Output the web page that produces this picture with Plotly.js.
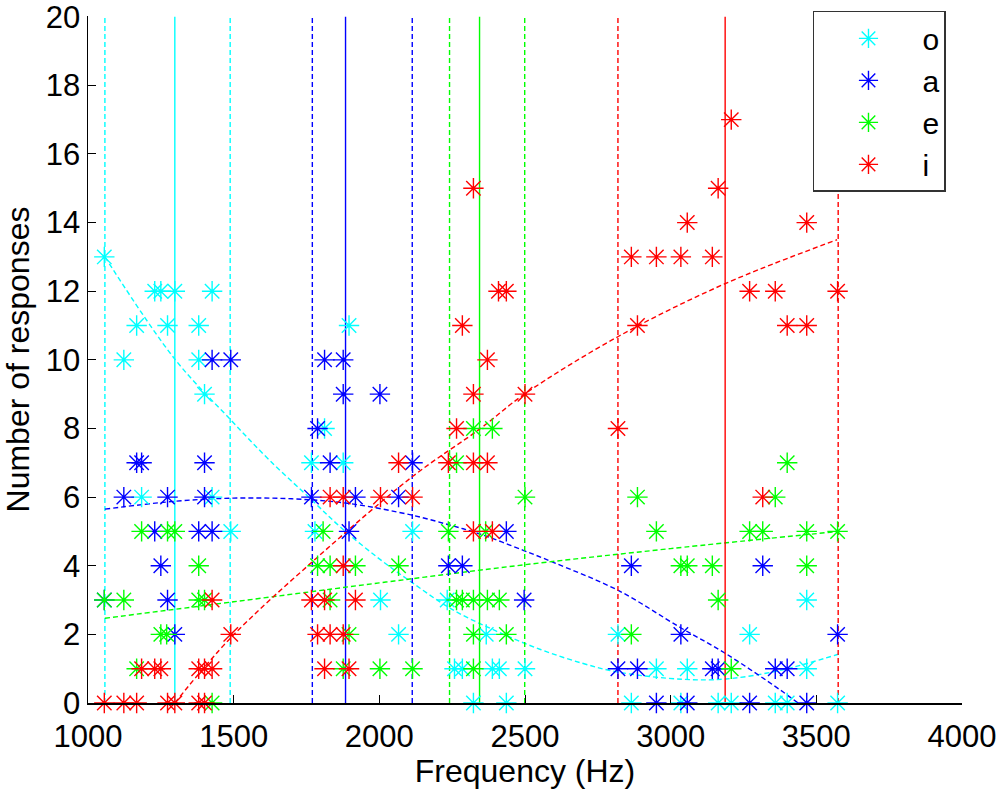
<!DOCTYPE html>
<html>
<head>
<meta charset="utf-8">
<script src="https://cdn.plot.ly/plotly-3.0.1.min.js"></script>
<style>
  body { margin: 0; background: white; }
  #plot { width: 1000px; height: 789px; }
</style>
</head>
<body>
<div id="plot"></div>
<script>
// responses per stimulus frequency (Hz) for each vowel
var oFreq  = [1056,1123,1167,1184,1229,1250,1273,1298,1380,1380,1400,1426,1426,1490,
              1767,1779,1812,1876,1896,2004,2066,2114,
              2233,2258,2285,2323,2367,2388,2412,2436,2500,
              2819,2865,2951,3035,3057,3163,3208,3271,3359,3400,3467,3467,3573];
var oCount = [13,10,11,6,12,12,11,12,11,10,9,12,6,5,
              7,5,8,7,11,3,2,5,
              3,1,1,0,2,1,1,0,1,
              2,0,1,0,1,0,0,2,0,0,3,1,0];

var aFreq  = [1056,1123,1167,1184,1229,1250,1273,1273,1298,1380,1400,1400,1426,1426,1490,
              1767,1788,1812,1831,1876,1876,1896,1918,2002,2066,2114,
              2237,2285,2436,2497,
              2819,2865,2886,3035,3057,2951,3143,3163,3271,3316,3359,3400,3467,3573];
var aCount = [3,6,7,7,5,4,6,3,2,5,7,6,10,5,10,
              6,8,10,7,10,9,5,6,9,6,7,
              4,4,5,3,
              1,4,1,2,0,0,1,1,0,4,1,1,0,2];

var eFreq  = [1056,1123,1167,1184,1250,1270,1273,1298,1380,1380,1400,1426,
              1788,1807,1831,1831,1876,1896,1918,2002,2066,2114,
              2237,2265,2265,2285,2323,2323,2323,2323,2365,2371,2388,2412,2436,2500,
              2865,2886,2951,3035,3057,3143,3163,3208,3271,3316,3359,3400,3467,3467,3573];
var eCount = [3,3,1,5,2,2,5,5,4,3,3,0,
              4,5,4,3,1,2,4,1,4,1,
              5,7,3,3,8,3,2,1,5,3,8,3,2,6,
              2,6,5,4,4,4,3,1,5,5,6,7,5,4,5];

var iFreq  = [1056,1123,1167,1184,1229,1250,1273,1298,1380,1380,1400,1400,1426,1426,1490,
              1767,1788,1812,1812,1831,1831,1876,1876,1876,1896,1918,2004,2066,2114,
              2237,2265,2285,2323,2323,2323,2323,2371,2371,2388,2409,2436,2500,
              2819,2865,2886,2951,3035,3057,3143,3163,3208,3271,3316,3359,3400,3467,3467,3573];
var iCount = [0,0,0,1,1,1,0,0,0,1,0,1,1,3,2,
              3,2,3,1,6,2,6,4,2,1,3,6,7,6,
              7,8,11,15,9,7,5,10,7,5,12,12,9,
              8,13,11,13,13,14,13,15,17,12,6,12,11,14,11,12];

// fitted response curves
var oFitX = [1058,1300,1490,1620,1770,1870,2000,2114,2245,2400,2553,2700,2820,3043,3190,3380,3575];
var oFitY = [13,10.0,8.25,7.1,5.9,5.1,4.2,3.5,2.75,2.1,1.56,1.15,0.9,0.69,0.7,0.96,1.42];
var aFitX = [1058,1300,1500,1700,1891,2114,2244,2340,2494,2597,2820,3033,3187,3376,3437];
var aFitY = [5.65,5.88,5.97,5.95,5.82,5.47,5.18,4.94,4.45,4.1,3.28,2.2,1.45,0.38,0];
var eFitX = [1058,1500,2000,2500,3000,3575];
var eFitY = [2.47,2.95,3.5,4.03,4.5,5.0];
var iFitX = [1298,1490,1788,2114,2347,2498,2820,3187,3571];
var iFitY = [0,1.9,4.25,6.6,8.0,9.0,10.68,12.22,13.5];

// range lines: [low, centre, high]
var oRange = [1058,1298,1488];
var aRange = [1770,1884,2113];
var eRange = [2241,2344,2499];
var iRange = [2819,3187,3575];

var names  = ["o","a","e","i"];
var colors = ["#00ffff","#0000ff","#00ff00","#ff0000"];
var freqs  = [oFreq,aFreq,eFreq,iFreq];
var counts = [oCount,aCount,eCount,iCount];
var fitX   = [oFitX,aFitX,eFitX,iFitX];
var fitY   = [oFitY,aFitY,eFitY,iFitY];
var ranges = [oRange,aRange,eRange,iRange];

var data = [];

for (let i = 0; i < 4; i++) {
  for (let k = 0; k < 3; k++) {
    data.push({
      x: [ranges[i][k], ranges[i][k]],
      y: [0, 20],
      mode: "lines",
      line: {color: colors[i], width: 1.4, dash: (k==1) ? "solid" : "5px,3px"},
      showlegend: false,
      hoverinfo: "skip"
    });
  }
  data.push({
    x: fitX[i],
    y: fitY[i],
    mode: "lines",
    line: {color: colors[i], width: 1.4, dash: "5px,3px", shape: "spline", smoothing: 1},
    showlegend: false,
    hoverinfo: "skip"
  });
}

for (let i = 0; i < 4; i++) {
  data.push({
    x: freqs[i],
    y: counts[i],
    mode: "markers",
    name: names[i],
    cliponaxis: false,
    marker: {symbol: "asterisk-open", size: 17, color: colors[i], line: {color: colors[i], width: 1.4}}
  });
}

var layout = {
  width: 1000,
  height: 789,
  margin: {l: 88, r: 38, t: 15, b: 86},
  paper_bgcolor: "white",
  plot_bgcolor: "white",
  font: {family: "Liberation Sans, Arial, sans-serif", color: "black", size: 30},
  showlegend: true,
  legend: {
    x: 0.8295, y: 1.006, xanchor: "left", yanchor: "top",
    bordercolor: "#333", borderwidth: 1.5, bgcolor: "white",
    font: {size: 30}, itemwidth: 98,
    traceorder: "normal"
  },
  xaxis: {
    range: [1000, 4000],
    tickvals: [1000,1500,2000,2500,3000,3500,4000],
    ticks: "inside", ticklen: 8, tickcolor: "black",
    showline: true, linecolor: "black", linewidth: 1.5,
    showgrid: false, zeroline: false,
    tickfont: {size: 31}, ticklabelstandoff: 5, ticklabeloverflow: "allow",
    title: {text: "Frequency (Hz)", font: {size: 32}, standoff: 4}
  },
  yaxis: {
    range: [0, 20.02],
    tickvals: [0,2,4,6,8,10,12,14,16,18,20],
    ticks: "inside", ticklen: 8, tickcolor: "black",
    showline: true, linecolor: "black", linewidth: 1.5,
    showgrid: false, zeroline: false,
    tickfont: {size: 31}, ticklabeloverflow: "allow",
    title: {text: "Number of responses", font: {size: 32}, standoff: 14}
  }
};

Plotly.newPlot("plot", data, layout, {staticPlot: true});
</script>
</body>
</html>
